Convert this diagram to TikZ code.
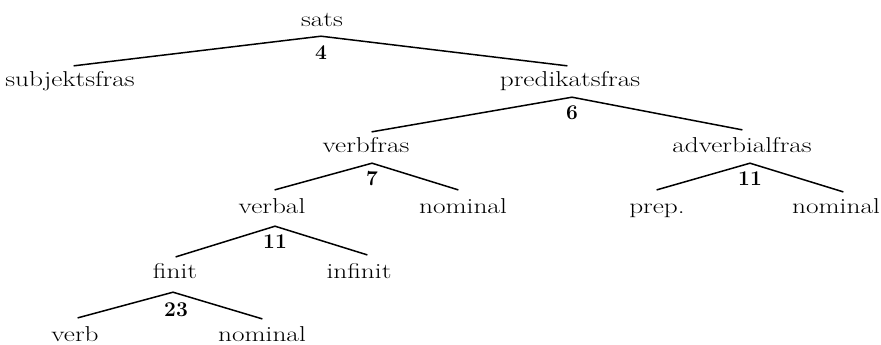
\documentclass[tikz,border=0pt]{standalone}
\newcommand{\wide}[1]{\scalebox{1.27}[1]{#1}}
\begin{document}
\begin{tikzpicture}[x=1pt,y=-1pt,
  lbl/.style={anchor=base,inner xsep=0pt,inner ysep=0pt,text height=23pt,text depth=9pt,font=\fontsize{21.5}{26}\selectfont},
  num/.style={anchor=north,inner sep=0pt,font=\fontsize{21}{25}\selectfont\bfseries},
  edge/.style={line width=1.5pt,line cap=round,line join=round}]
\useasboundingbox (0,0) rectangle (881,345);
% labels
\node[lbl] (sats) at (322,27) {\wide{sats}};
\node[lbl] (subj) at (70,87) {\wide{subjektsfras}};
\node[lbl] (pred) at (570,87) {\wide{predikatsfras}};
\node[lbl] (vfr) at (366,152) {\wide{verbfras}};
\node[lbl] (afr) at (742,152) {\wide{adverbialfras}};
\node[lbl] (verbal) at (272,213) {\wide{verbal}};
\node[lbl] (nomA) at (463,213) {\wide{nominal}};
\node[lbl] (prep) at (657,213) {\wide{prep.}};
\node[lbl] (nomB) at (836,213) {\wide{nominal}};
\node[lbl] (finit) at (175,278) {\wide{finit}};
\node[lbl] (infinit) at (359,278) {\wide{infinit}};
\node[lbl] (verb) at (75,341) {\wide{verb}};
\node[lbl] (nomC) at (262,341) {\wide{nominal}};
% apexes
\coordinate (aS) at ([xshift=-1pt]sats.south);
\coordinate (aP) at ([xshift=2pt,yshift=-1pt]pred.south);
\coordinate (aV) at ([xshift=6pt,yshift=-2pt]vfr.south);
\coordinate (aA) at ([xshift=8pt,yshift=-2pt]afr.south);
\coordinate (aVb) at ([xshift=3pt,yshift=-4pt]verbal.south);
\coordinate (aF) at ([xshift=-2pt,yshift=-5pt]finit.south);
% numbers
\node[num] (n4) at ([yshift=-9pt]aS) {4};
\node[num] (n6) at ([yshift=-8pt]aP) {6};
\node[num] (n7) at ([yshift=-8pt]aV) {7};
\node[num] (n11a) at ([yshift=-8pt]aVb) {11};
\node[num] (n23) at ([xshift=3pt,yshift=-10pt]aF) {23};
\node[num] (n11b) at ([yshift=-8pt]aA) {11};
% edges
\draw[edge] ([xshift=4pt,yshift=-2pt]subj.north) -- (aS) -- ([xshift=-3pt,yshift=-2pt]pred.north);
\draw[edge] ([xshift=6pt,yshift=-3pt]vfr.north) -- (aP) -- ([yshift=-1pt]afr.north);
\draw[edge] ([xshift=3pt]verbal.north) -- (aV) -- ([xshift=-5pt]nomA.north);
\draw[edge] (prep.north) -- (aA) -- ([xshift=7pt,yshift=-2pt]nomB.north);
\draw[edge] ([xshift=1pt,yshift=-2pt]finit.north) -- (aVb) -- ([xshift=8pt]infinit.north);
\draw[edge] ([xshift=3pt]verb.north) -- (aF) -- ([yshift=-1pt]nomC.north);
\end{tikzpicture}
\end{document}
